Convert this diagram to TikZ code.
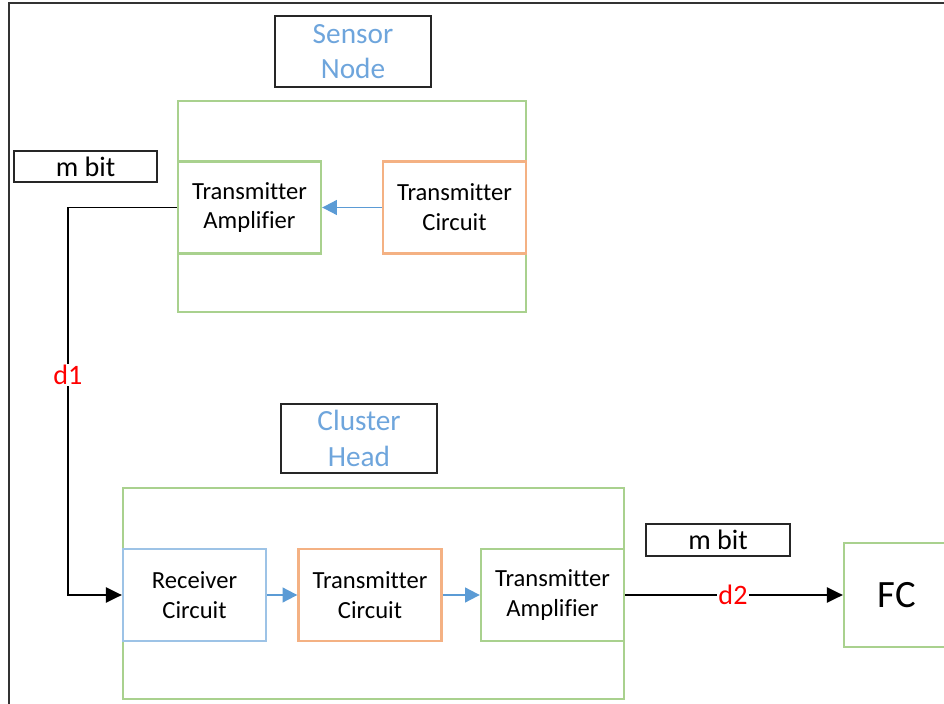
\documentclass[tikz,border=0pt]{standalone}
\usepackage{fontspec}
\setmainfont{Carlito}[Ligatures=CommonOff]
\usetikzlibrary{arrows.meta}

\definecolor{boxgreen}{RGB}{169,209,142}
\definecolor{boxorange}{RGB}{244,177,131}
\definecolor{boxblue}{RGB}{157,195,230}
\definecolor{linkblue}{RGB}{91,155,213}
\definecolor{titleblue}{RGB}{110,165,220}

\begin{document}
\begin{tikzpicture}[x=0.03cm,y=-0.03cm,
    part/.style={draw,line width=2pt,inner sep=0pt,align=center,
        minimum width=4.29cm,minimum height=2.76cm,
        font=\fontsize{21}{25.5}\selectfont},
    group/.style={draw=boxgreen,line width=2pt,inner sep=0pt},
    title/.style={draw=black!85,line width=1.6pt,inner sep=0pt,align=center,
        minimum width=4.68cm,text=titleblue,font=\fontsize{25}{30}\selectfont},
    bits/.style={draw=black!85,line width=1.6pt,inner sep=0pt,
        minimum width=4.3cm,minimum height=0.94cm,font=\fontsize{24}{28}\selectfont},
    dist/.style={fill=white,inner sep=1pt,text=red,font=\fontsize{24}{28}\selectfont},
    link/.style={linkblue,line width=1.7pt,-{Triangle[length=0.44cm,width=0.44cm]}},
    wire/.style={black,line width=1.5pt},
    ]
    \clip(0,0)rectangle(944,704);
    % frame
    \draw[black!80,line width=1.2pt](9,704)--(9,3)--(944,3);

    % sensor node
    \node[title,minimum height=2.13cm](snlabel)at(353,51.5){Sensor\\Node};
    \node[group,minimum width=10.44cm,minimum height=6.33cm](sn)at(352,206.5){};
    \node[part,draw=boxgreen](ta1)at(249.5,207.5){Transmitter\\Amplifier};
    \node[part,draw=boxorange](tc1)at(454.5,207.5){Transmitter\\Circuit};
    \draw[link](tc1)--(ta1);
    \node[bits](bits1)at(85.5,166.5){m bit};

    % cluster head
    \node[title,minimum height=2.07cm](chlabel)at(359,438.5){Cluster\\Head};
    \node[group,minimum width=15.03cm,minimum height=6.33cm](ch)at(373.5,593.5){};
    \node[part,draw=boxblue](rx)at(194.5,595){Receiver\\Circuit};
    \node[part,draw=boxorange](tc2)at(370,595){Transmitter\\Circuit};
    \node[part,draw=boxgreen](ta2)at(552.5,595){Transmitter\\Amplifier};
    \draw[link](rx)--(tc2);
    \draw[link](tc2)--(ta2);

    % fusion centre
    \node[group,minimum width=3.18cm,minimum height=3.12cm,
        font=\fontsize{33}{38}\selectfont](fc)at(897,595){FC};
    \node[bits](bits2)at(718,540){m bit};

    % links
    \node[dist](d1)at(68,375){d1};
    \node[dist](d2)at(733,595){d2};
    \draw[wire](ta1.west)-|(d1.north);
    \draw[wire,-{Triangle[length=0.48cm,width=0.46cm]}](d1.south)|-(rx.west);
    \draw[wire](ta2.east)--(d2.west);
    \draw[wire,-{Triangle[length=0.48cm,width=0.46cm]}](d2.east)--(fc.west);
\end{tikzpicture}
\end{document}
